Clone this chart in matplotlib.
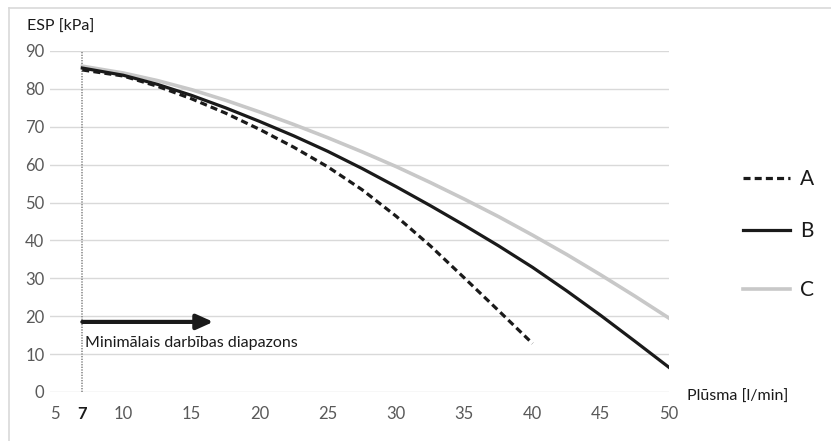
import matplotlib
matplotlib.use("Agg")
import matplotlib.pyplot as plt
from matplotlib.lines import Line2D

plt.rcParams['font.family'] = ['Lato', 'DejaVu Sans']

# Flow rate [l/min] and external static pressure [kPa] for each pump variant
flow_a = [7, 10, 12.5, 15, 17.5, 20, 22.5, 25, 27.5, 30, 32.5, 35, 37.5, 40]
esp_a = [85.0, 83.4, 80.7, 77.4, 73.6, 69.3, 64.6, 59.4, 53.4, 46.4, 38.6, 30.1, 21.5, 12.8]

flow_bc = [7, 10, 12.5, 15, 17.5, 20, 22.5, 25, 27.5, 30, 32.5, 35, 37.5, 40,
           42.5, 45, 47.5, 50]
esp_b = [85.5, 83.6, 81.2, 78.3, 75.0, 71.4, 67.6, 63.5, 59.0, 54.2, 49.2, 44.0,
         38.6, 32.9, 26.7, 20.2, 13.4, 6.5]
esp_c = [86.0, 84.2, 82.2, 79.8, 77.0, 73.9, 70.6, 67.1, 63.4, 59.5, 55.3, 50.9,
         46.3, 41.4, 36.3, 30.9, 25.3, 19.5]

series_names = ["A", "B", "C"]
x_ticks = [5, 7, 10, 15, 20, 25, 30, 35, 40, 45, 50]
y_ticks = [0, 10, 20, 30, 40, 50, 60, 70, 80, 90]
min_flow = 7
range_end = 16.6
range_label = "Minimālais darbības diapazons"

W, H = 831, 441
fig = plt.figure(figsize=(W / 100, H / 100), dpi=100)

# Outer frame (top and left edges)
fig.add_artist(Line2D([9 / W, 1], [1 - 8 / H, 1 - 8 / H], color="#d9d9d9", lw=1.2))
fig.add_artist(Line2D([9 / W, 9 / W], [0, 1 - 8 / H], color="#d9d9d9", lw=1.2))

ax = fig.add_axes([50 / W, 1 - 392 / H, (669 - 50) / W, (392 - 51) / H])
ax.set_xlim(4.63, 50.0)
ax.set_ylim(0, 90)

for v in y_ticks:
    ax.axhline(v, color="#d9d9d9", lw=1.0, zorder=0)

dash = (0, (2.2, 1.3))
ax.plot(flow_a, esp_a, color="#1a1a1a", lw=2.3, ls=dash, zorder=4,
        dash_joinstyle="round")
ax.plot(flow_bc, esp_b, color="#1a1a1a", lw=2.3, zorder=3, solid_joinstyle="round")
ax.plot(flow_bc, esp_c, color="#c8c8c8", lw=2.6, zorder=2, solid_joinstyle="round")

# Minimum operating flow marker
ax.plot([min_flow, min_flow], [0, 90], color="#8c8c8c", lw=1.2, ls=(0, (0.8, 0.8)), zorder=1)
ax.annotate("", xy=(range_end, 18.5), xytext=(min_flow, 18.5),
            arrowprops=dict(arrowstyle="-|>,head_length=1.0,head_width=0.45",
                            color="#1a1a1a", lw=3.0, shrinkA=0, shrinkB=0), zorder=5)
ax.text(min_flow + 0.2, 12.9, range_label, fontsize=11.5, color="#1a1a1a",
        va="center", ha="left")

for s in ax.spines.values():
    s.set_visible(False)
ax.tick_params(axis="x", length=0, pad=10)
ax.tick_params(axis="y", length=0, pad=4)
ax.set_xticks(x_ticks)
ax.set_xticklabels([str(t) for t in x_ticks], fontsize=12, color="#595959")
for lbl in ax.get_xticklabels():
    if lbl.get_text() == str(min_flow):
        lbl.set_color("#1a1a1a")
        lbl.set_fontweight("bold")
ax.set_yticks(y_ticks)
ax.set_yticklabels([str(t) for t in y_ticks], fontsize=12, color="#595959")

fig.text(27 / W, 1 - 27 / H, "ESP [kPa]", fontsize=11.5, color="#1a1a1a",
         va="center", ha="left")
fig.text(687 / W, 1 - 397 / H, "Plūsma [l/min]", fontsize=11.5, color="#1a1a1a",
         va="center", ha="left")

# Legend drawn as figure-level line samples with labels
legend_styles = [
    dict(color="#1a1a1a", lw=2.3, ls=dash),
    dict(color="#1a1a1a", lw=2.3, ls="-"),
    dict(color="#c8c8c8", lw=2.6, ls="-"),
]
legend_y = [178, 230, 289]
for name, style, yp in zip(series_names, legend_styles, legend_y):
    fig.add_artist(Line2D([743 / W, 790 / W], [1 - yp / H, 1 - yp / H], **style))
    fig.text(800 / W, 1 - (yp + 1) / H, name, fontsize=15, color="#1a1a1a",
             va="center", ha="left")

fig.savefig("out.png", dpi=100)
